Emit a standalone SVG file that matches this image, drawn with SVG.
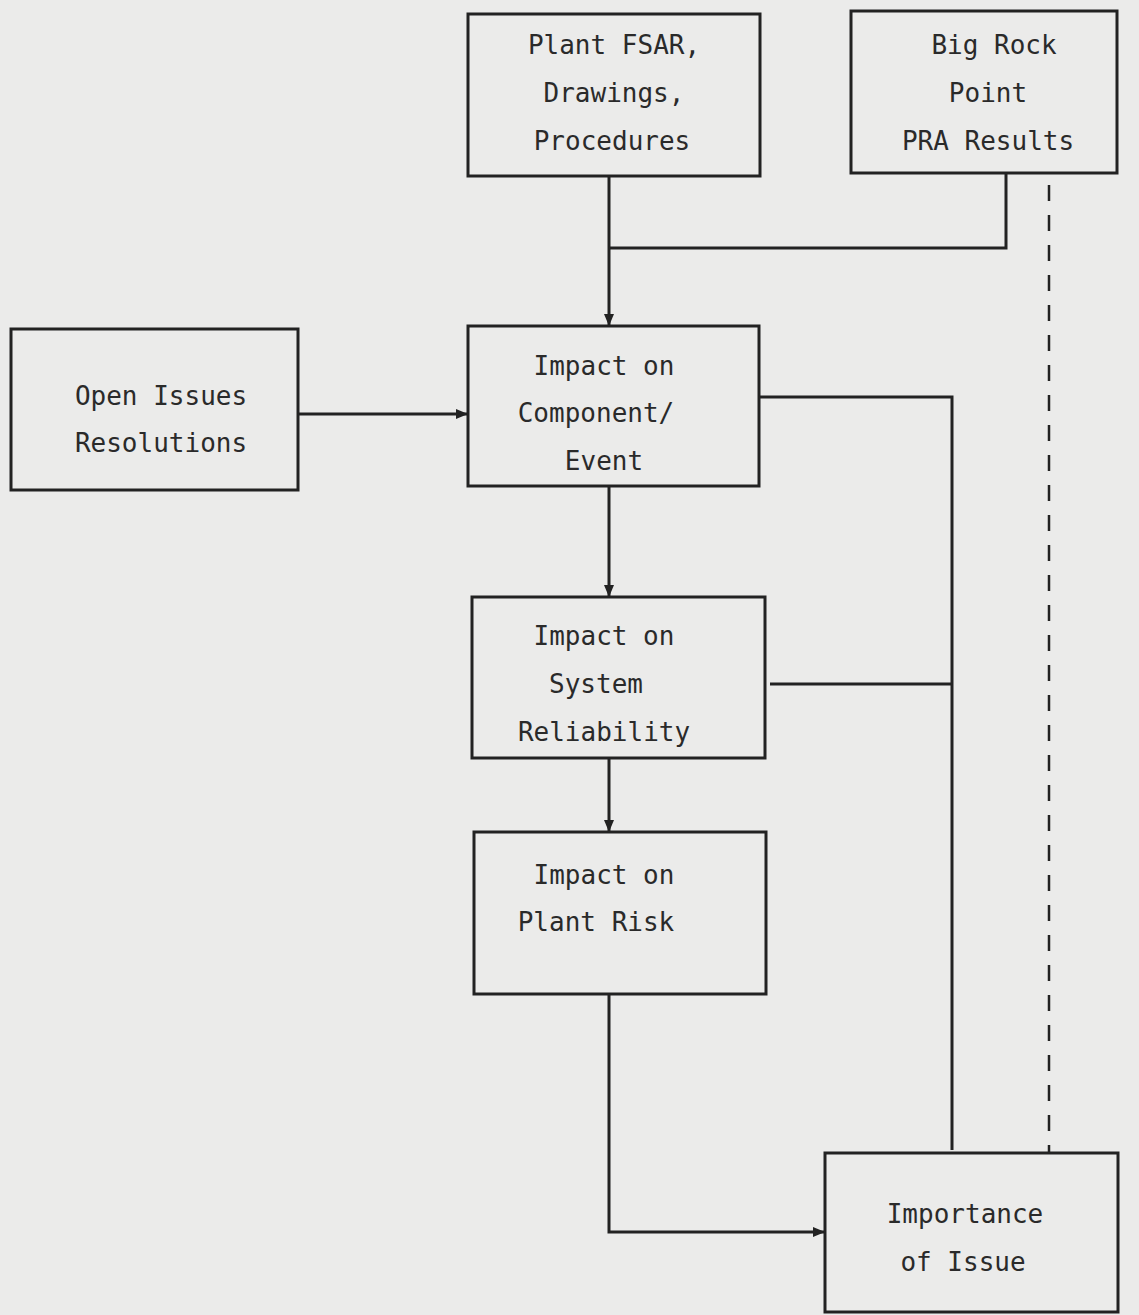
<svg xmlns="http://www.w3.org/2000/svg" width="1139" height="1315" viewBox="0 0 1139 1315">
<style>
.box{fill:none;stroke:#222;stroke-width:3}
.t{font-family:"DejaVu Sans Mono","Liberation Mono",monospace;font-size:26px;fill:#2a2a2a;text-anchor:middle}
.c{fill:none;stroke:#222;stroke-width:3}
.d{fill:none;stroke:#222;stroke-width:2.5;stroke-dasharray:16 14}
</style>
<defs>
<marker id="ah" markerWidth="12" markerHeight="10" refX="11" refY="5" orient="auto" markerUnits="userSpaceOnUse">
<path d="M0,0 L12,5 L0,10 Z" fill="#222"/>
</marker>
</defs>
<rect width="1139" height="1315" fill="#ebebea"/>
<g id="connectors">
<path class="c" d="M609,176 V325" marker-end="url(#ah)"/>
<path class="c" d="M1006,173 V248 H609"/>
<path class="d" d="M1049,185 V1153"/>
<path class="c" d="M298,414 H467" marker-end="url(#ah)"/>
<path class="c" d="M759,397 H952 V1150"/>
<path class="c" d="M609,486 V596" marker-end="url(#ah)"/>
<path class="c" d="M770,684 H952"/>
<path class="c" d="M609,758 V831" marker-end="url(#ah)"/>
<path class="c" d="M609,994 V1232 H824" marker-end="url(#ah)"/>
</g>
<g id="n1"><rect class="box" x="468" y="14" width="292" height="162"/>
<text class="t" x="614" y="54">Plant FSAR,</text><text class="t" x="614" y="102">Drawings,</text><text class="t" x="612" y="150">Procedures</text></g>
<g id="n2"><rect class="box" x="851" y="11" width="266" height="162"/>
<text class="t" x="994" y="54">Big Rock</text><text class="t" x="988" y="102">Point</text><text class="t" x="988" y="150">PRA Results</text></g>
<g id="n3"><rect class="box" x="11" y="329" width="287" height="161"/>
<text class="t" x="161" y="405">Open Issues</text><text class="t" x="161" y="452">Resolutions</text></g>
<g id="n4"><rect class="box" x="468" y="326" width="291" height="160"/>
<text class="t" x="604" y="375">Impact on</text><text class="t" x="596" y="422">Component/</text><text class="t" x="604" y="470">Event</text></g>
<g id="n5"><rect class="box" x="472" y="597" width="293" height="161"/>
<text class="t" x="604" y="645">Impact on</text><text class="t" x="596" y="693">System</text><text class="t" x="604" y="741">Reliability</text></g>
<g id="n6"><rect class="box" x="474" y="832" width="292" height="162"/>
<text class="t" x="604" y="884">Impact on</text><text class="t" x="596" y="931">Plant Risk</text></g>
<g id="n7"><rect class="box" x="825" y="1153" width="293" height="159"/>
<text class="t" x="965" y="1223">Importance</text><text class="t" x="963" y="1271">of Issue</text></g>
</svg>
